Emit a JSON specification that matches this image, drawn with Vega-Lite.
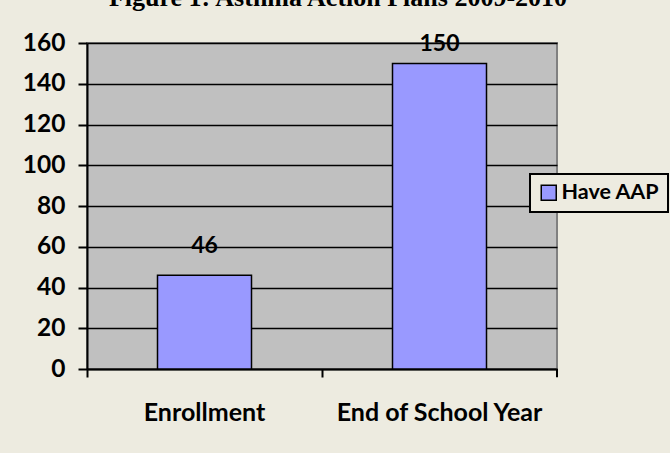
{
  "$schema": "https://vega.github.io/schema/vega-lite/v6.json",
  "width": 470,
  "height": 326,
  "autosize": {"type": "none"},
  "padding": {"left": 87, "top": 43, "right": 113, "bottom": 84},
  "background": "#EDEBE0",
  "title": {
    "text": "Figure 1: Asthma Action Plans 2009-2010",
    "font": "Liberation Serif",
    "fontSize": 26,
    "fontWeight": "bold",
    "color": "#000000",
    "anchor": "middle",
    "baseline": "alphabetic",
    "offset": 4,
    "dy": 6,
    "dx": 16
  },
  "data": {
    "values": [
      {"cat": "Enrollment", "value": 46, "series": "Have AAP"},
      {"cat": "End of School Year", "value": 150, "series": "Have AAP"}
    ]
  },
  "encoding": {
    "x": {
      "field": "cat",
      "type": "nominal",
      "sort": null,
      "scale": {"paddingInner": 0, "paddingOuter": 0},
      "axis": {
        "title": null,
        "labelAngle": 0,
        "labelLimit": 0,
        "bandPosition": 0,
        "domainColor": "#000000",
        "domainWidth": 2,
        "tickColor": "#000000",
        "tickWidth": 2,
        "tickSize": 8,
        "labelFont": "Lato",
        "labelFontSize": 25,
        "labelFontWeight": "bold",
        "labelColor": "#000000",
        "labelBaseline": "alphabetic",
        "labelPadding": 43,
        "grid": false
      }
    },
    "y": {
      "field": "value",
      "type": "quantitative",
      "scale": {"domain": [0, 160], "nice": false},
      "axis": {
        "title": null,
        "values": [0, 20, 40, 60, 80, 100, 120, 140, 160],
        "domainColor": "#000000",
        "domainWidth": 2,
        "tickColor": "#000000",
        "tickWidth": 2,
        "tickSize": 9,
        "labelFont": "Lato",
        "labelFontSize": 24.5,
        "labelFontWeight": "bold",
        "labelColor": "#000000",
        "labelPadding": 13,
        "grid": true,
        "gridColor": "#000000",
        "gridWidth": 1.5,
        "gridOpacity": 1
      }
    }
  },
  "layer": [
    {
      "mark": {"type": "bar", "width": {"band": 0.4}, "stroke": "#000000", "strokeWidth": 1.5},
      "encoding": {
        "color": {
          "field": "series",
          "type": "nominal",
          "scale": {"range": ["#9999FF"]},
          "legend": {
            "title": null,
            "orient": "none",
            "legendX": 443,
            "legendY": 131,
            "fillColor": "#EDEBE0",
            "strokeColor": "#000000",
            "padding": 8,
            "symbolType": "square",
            "symbolSize": 225,
            "symbolStrokeColor": "#000000",
            "symbolStrokeWidth": 1.5,
            "symbolOpacity": 1,
            "labelFont": "Lato",
            "labelFontSize": 21.5,
            "labelFontWeight": "bold",
            "labelColor": "#000000",
            "labelOffset": 2,
            "encode": {"legend": {"update": {"strokeWidth": {"value": 2}}}}
          }
        }
      }
    },
    {
      "transform": [{"filter": "datum.value < 100"}],
      "mark": {"type": "text", "dy": -22, "baseline": "alphabetic", "font": "Lato", "fontSize": 23, "fontWeight": "bold", "color": "#000000"},
      "encoding": {"text": {"field": "value", "type": "quantitative"}}
    },
    {
      "transform": [{"filter": "datum.value >= 100"}],
      "mark": {"type": "text", "dy": -12, "baseline": "alphabetic", "font": "Lato", "fontSize": 23, "fontWeight": "bold", "color": "#000000"},
      "encoding": {"text": {"field": "value", "type": "quantitative"}}
    },
    {
      "transform": [{"filter": "datum.value >= 100"}],
      "mark": {"type": "rule", "color": "#000000", "strokeWidth": 2},
      "encoding": {
        "x": {"field": "cat", "type": "nominal", "bandPosition": 1},
        "y": {"datum": 0},
        "y2": {"datum": -4}
      }
    }
  ],
  "config": {
    "view": {"fill": "#C0C0C0", "stroke": "#808080", "strokeWidth": 2}
  }
}
